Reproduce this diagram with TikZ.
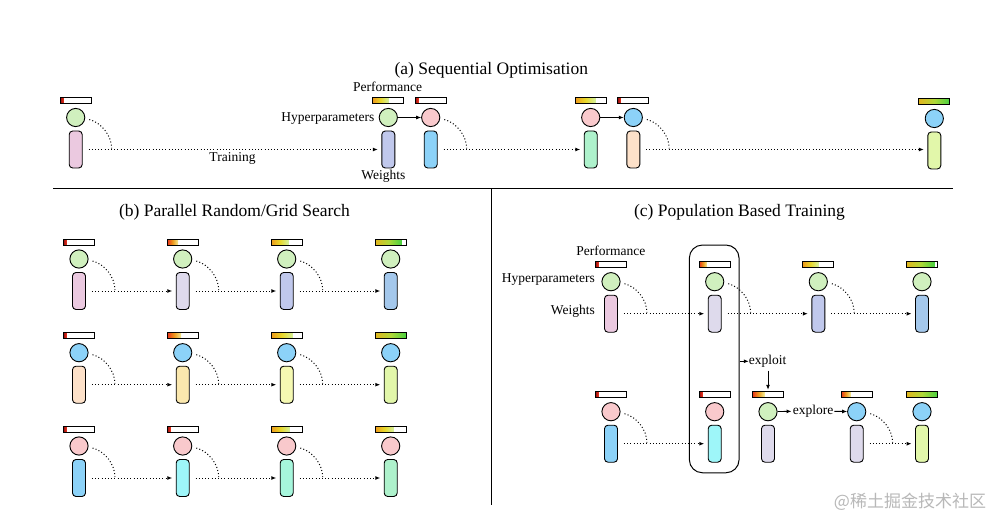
\documentclass[tikz,border=0pt]{standalone}
\usepackage{fontspec}
\setmainfont{Liberation Serif}
\newfontfamily\cjkfont{Noto Sans CJK SC}
\usetikzlibrary{arrows.meta,calc}
\definecolor{cGreen}{HTML}{D0F0BE}
\definecolor{cBlue}{HTML}{8CD2F8}
\definecolor{cPink}{HTML}{F9C9CC}
\definecolor{wPinkLilac}{HTML}{EBC9E0}
\definecolor{wLav}{HTML}{DEDAEC}
\definecolor{wPeri}{HTML}{C0C8EC}
\definecolor{wBlue}{HTML}{A4C8EC}
\definecolor{wPeach}{HTML}{FDE1C9}
\definecolor{wYellow}{HTML}{FBE8AE}
\definecolor{wPaleYellow}{HTML}{F5F9B2}
\definecolor{wLime}{HTML}{E2F7AA}
\definecolor{wSky}{HTML}{8CD2F8}
\definecolor{wCyan}{HTML}{9EF6F9}
\definecolor{wAqua}{HTML}{A6F6DC}
\definecolor{wMint}{HTML}{AEF2CC}
\definecolor{pDark}{HTML}{9C1010}
\definecolor{pRed}{HTML}{E8341C}
\definecolor{pOrange}{HTML}{EE9A1C}
\definecolor{pYellow}{HTML}{E8D82A}
\definecolor{pLime}{HTML}{C4EC70}
\definecolor{pGold}{HTML}{E2B51E}
\definecolor{pYG}{HTML}{B0D838}
\definecolor{pGreen}{HTML}{48D040}
\tikzset{
 hp/.style={circle, draw, line width=0.9pt, minimum size=18.2pt, inner sep=0pt},
 wt/.style={rectangle, rounded corners=3.5pt, draw, line width=0.9pt, minimum width=13pt, minimum height=37pt, inner sep=0pt},
 perf/.style={rectangle, draw, line width=0.8pt, minimum width=31pt, minimum height=6pt, inner sep=0pt},
 lbl/.style={font=\fontsize{13.5}{15}\selectfont, inner sep=0pt},
 ttl/.style={font=\fontsize{17.5}{20}\selectfont, inner sep=0pt},
 dotarrow/.style={line width=1pt, dash pattern=on 1pt off 2.2pt, -{Latex[length=5pt,width=4pt]}, shorten <=6pt, shorten >=3.5pt, black},
 dotarc/.style={line width=1pt, dash pattern=on 1pt off 2.2pt, black},
 solidarrow/.style={line width=0.9pt, -{Latex[length=5pt,width=4pt]}},
 pA/.style={left color=pDark, right color=pRed},
 pB/.style={left color=pRed, right color=pYellow!50!white, middle color=pOrange},
 pC/.style={left color=pOrange, right color=pLime!70!white, middle color=pYellow},
 pD/.style={left color=pGold, right color=pGreen, middle color=pYG},
}
\newcommand\agent[7]{%
  \shade[#7] (#2-15.5,#3-20) rectangle ({#2-15.5+31*#6},#3-14);
  \node[perf] (#1b) at (#2,#3-17) {};
  \node[hp,fill=#4] (#1c) at (#2,#3) {};
  \node[wt,fill=#5] (#1w) at (#2,#3+32) {};
}
\newcommand\trainarc[1]{%
  \draw[dotarc] ($(#1c.east)+(4,2)$) .. controls +(12,3) and +(0,-13) .. ($(#1w.east)+(29,-1)$);
}
\begin{document}
\begin{tikzpicture}[x=1pt,y=-1pt]
\useasboundingbox[fill=white] (0,0) rectangle (1008,529);

% dividers
\draw[line width=1pt] (53,188.3) -- (953,188.3);
\draw[line width=1pt] (491.7,188.3) -- (491.7,505);

% titles
\node[ttl] (ta) at (491.3,70.3) {(a) Sequential Optimisation};
\node[ttl] (tb) at (234.5,212) {(b) Parallel Random/Grid Search};
\node[ttl] (tc) at (739.5,212.5) {(c) Population Based Training};

% ---------- (a) ----------
\agent{a1}{75.7}{117.5}{cGreen}{wPinkLilac}{0.12}{pA}
\agent{a2}{388.3}{117.5}{cGreen}{wPeri}{0.5}{pC}
\agent{a3}{430.7}{117.5}{cPink}{wSky}{0.1}{pA}
\agent{a4}{590.7}{117.5}{cPink}{wMint}{0.65}{pC}
\agent{a5}{633.3}{117.5}{cBlue}{wPeach}{0.1}{pA}
\agent{a6}{934.3}{118.5}{cBlue}{wLime}{1}{pD}
\trainarc{a1}\trainarc{a3}\trainarc{a5}
\draw[dotarrow] (a1w.east) -- (a2w.west);
\draw[dotarrow] (a3w.east) -- (a4w.west);
\draw[dotarrow] (a5w.east) -- (a5w.east -| a6w.west);
\draw[solidarrow] (a2c) -- (a3c);
\draw[solidarrow] (a4c) -- (a5c);
\node[lbl] (perfa) at (387.7,87) {Performance};
\node[lbl,anchor=east] (hypa) at (374.5,118.7) {Hyperparameters};
\node[lbl] (wa) at (383.3,176.3) {Weights};
\node[lbl] (tra) at (232.5,158.7) {Training};

% ---------- (b) ----------
\agent{b11}{79}{259}{cGreen}{wPinkLilac}{0.1}{pA}
\agent{b12}{182.7}{259}{cGreen}{wLav}{0.35}{pB}
\agent{b13}{286.7}{259}{cGreen}{wPeri}{0.55}{pC}
\agent{b14}{390.7}{259}{cGreen}{wBlue}{0.85}{pD}
\agent{b21}{79}{352.7}{cBlue}{wPeach}{0.1}{pA}
\agent{b22}{182.7}{352.7}{cBlue}{wYellow}{0.45}{pB}
\agent{b23}{286.7}{352.7}{cBlue}{wPaleYellow}{0.7}{pC}
\agent{b24}{390.7}{352.7}{cBlue}{wLime}{1}{pD}
\agent{b31}{79}{446}{cPink}{wSky}{0.1}{pA}
\agent{b32}{182.7}{446}{cPink}{wCyan}{0.1}{pA}
\agent{b33}{286.7}{446}{cPink}{wAqua}{0.6}{pC}
\agent{b34}{390.7}{446}{cPink}{wMint}{0.6}{pC}
\foreach \r in {1,2,3}{
  \trainarc{b\r1}\trainarc{b\r2}\trainarc{b\r3}
  \draw[dotarrow] (b\r1w.east) -- (b\r2w.west);
  \draw[dotarrow] (b\r2w.east) -- (b\r3w.west);
  \draw[dotarrow] (b\r3w.east) -- (b\r4w.west);
}

% ---------- (c) ----------
\node[draw, line width=1pt, rounded corners=13pt, minimum width=49.7pt, minimum height=227.7pt, inner sep=0pt] (box) at (714.2,358.9) {};
\agent{c1}{611}{281.7}{cGreen}{wPinkLilac}{0.1}{pA}
\agent{c2}{714.7}{281.7}{cGreen}{wLav}{0.25}{pB}
\agent{c3}{818.3}{281.7}{cGreen}{wPeri}{0.5}{pC}
\agent{c4}{922}{281.7}{cGreen}{wBlue}{0.9}{pD}
\agent{c5}{611}{411.7}{cPink}{wSky}{0.1}{pA}
\agent{c6}{714.7}{411.7}{cPink}{wCyan}{0.1}{pA}
\agent{c7}{768}{411.7}{cGreen}{wLav}{0.38}{pB}
\agent{c8}{856.7}{411.7}{cBlue}{wLav}{0.3}{pB}
\agent{c9}{922}{411.7}{cBlue}{wLime}{1}{pD}
\trainarc{c1}\trainarc{c2}\trainarc{c3}\trainarc{c5}\trainarc{c8}
\draw[dotarrow] (c1w.east) -- (c2w.west);
\draw[dotarrow] (c2w.east) -- (c3w.west);
\draw[dotarrow] (c3w.east) -- (c4w.west);
\draw[dotarrow] (c5w.east) -- (c6w.west);
\draw[dotarrow] (c8w.east) -- (c9w.west);
\node[lbl] (perfc) at (610.8,250.5) {Performance};
\node[lbl,anchor=east] (hypc) at (595,279.7) {Hyperparameters};
\node[lbl,anchor=east] (wc) at (595,310.8) {Weights};
\node[lbl] (exl) at (767.7,361.3) {exploit};
\node[lbl] (exr) at (813,411.3) {explore};
\draw[solidarrow] (box.east |- exl.west) -- (exl.west);
\draw[solidarrow, shorten <=3pt, shorten >=1.5pt] (exl.south -| c7b.north) -- (c7b.north);
\draw[solidarrow, shorten >=1pt] (c7c) -- (exr.west);
\draw[solidarrow, shorten <=1pt] (exr.east) -- (c8c);

% watermark
\node[text=black!28, font=\cjkfont\fontsize{17}{20}\selectfont, inner sep=0pt] (wm) at (910,502) {@稀土掘金技术社区};
\end{tikzpicture}
\end{document}
